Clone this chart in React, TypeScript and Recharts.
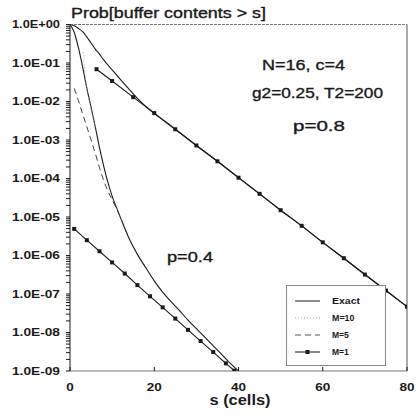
import React from 'react';
import { LineChart, Line, XAxis, YAxis, ReferenceLine, Legend } from 'recharts';

// buffer size s (cells) and Prob[buffer contents > s]
const exact08S = [0, 1, 2, 3, 4, 5, 6, 7, 8, 10, 12, 14, 16, 18, 20, 25, 30, 35, 40, 45, 50, 55, 60, 65, 70, 75, 80];
const exact08P = [1, 0.93, 0.79, 0.65, 0.47, 0.33, 0.23, 0.17, 0.12, 0.066, 0.037, 0.021, 0.012, 0.0074, 0.0049,
  1.9e-3, 7.2e-4, 2.8e-4, 1.05e-4, 4.0e-5, 1.5e-5, 5.9e-6, 2.2e-6, 8.5e-7, 3.2e-7, 1.23e-7, 4.7e-8];

const m1_08S = [6.3, 10, 15, 20, 25, 30, 35, 40, 45, 50, 55, 60, 65, 70, 75, 80];
const m1_08P = [6.9e-2, 3.4e-2, 1.3e-2, 5.0e-3, 1.9e-3, 7.2e-4, 2.8e-4, 1.05e-4, 4.0e-5, 1.5e-5, 5.9e-6,
  2.2e-6, 8.5e-7, 3.2e-7, 1.23e-7, 4.7e-8];

const exact04S = [0, 1, 2, 3, 4, 5, 6, 7, 8, 9, 10, 11, 12, 14, 16, 18, 20, 22, 24, 26, 28, 30, 32, 34, 36, 38, 40];
const exact04P = [1, 0.63, 0.25, 0.079, 0.022, 7.1e-3, 2.2e-3, 6.3e-4, 2.1e-4, 7.9e-5, 3.5e-5, 1.8e-5, 9.5e-6,
  2.8e-6, 1.07e-6, 4.8e-7, 2.2e-7, 1.12e-7, 6.3e-8, 3.7e-8, 2.1e-8, 1.26e-8, 7.6e-9, 4.5e-9, 2.7e-9, 1.6e-9, 1.0e-9];

const m10_04S = [3.2, 3.5, 4.0, 4.6, 5.2, 6];
const m10_04P = [0.19, 0.063, 0.02, 0.01, 5.0e-3, 2.2e-3];

const m5_04S = [1, 2, 3, 4, 5, 6, 7, 8, 9, 10, 11, 12, 14];
const m5_04P = [2.2e-2, 1.05e-2, 4.8e-3, 2.2e-3, 1.0e-3, 4.5e-4, 1.9e-4, 8.9e-5, 4.7e-5, 2.8e-5, 1.7e-5, 9.5e-6, 2.8e-6];

const m1_04S = [1, 4, 7, 10, 13, 16, 19, 22, 25, 28, 31, 34, 37, 39];
const m1_04P = [4.9e-6, 2.5e-6, 1.29e-6, 6.6e-7, 3.4e-7, 1.7e-7, 8.7e-8, 4.5e-8, 2.3e-8, 1.17e-8, 6.0e-9,
  3.1e-9, 1.58e-9, 1.02e-9];

const xTicks = [0, 20, 40, 60, 80];
const decades = [0, -1, -2, -3, -4, -5, -6, -7, -8, -9];

const zip = (s: number[], p: number[]) => s.map((v, i) => ({ s: v, p: p[i] }));

// major ticks at each decade, minor ticks at 2..9 x 10^k
const yTicks: number[] = [];
decades.forEach(k => {
  yTicks.push(Math.pow(10, k));
  if (k > -9) for (let m = 2; m <= 9; m++) yTicks.push(m * Math.pow(10, k - 1));
});

const FONT = '"Liberation Sans", Arial, sans-serif';
const INK = '#1a1a1a';

const fmtExp = (v: number) => {
  const e = Math.round(Math.log10(v));
  const sign = e < 0 ? '-' : '+';
  return `1.0E${sign}${String(Math.abs(e)).padStart(2, '0')}`;
};

const YTick = (props: any) => {
  const { x, y, payload } = props;
  const lg = Math.log10(payload.value);
  if (Math.abs(lg - Math.round(lg)) > 1e-6) return <g />;
  return (
    <text x={x} y={y} dy="0.35em" textAnchor="end" fontFamily={FONT} fontSize={10} fontWeight="bold" fill={INK}
      textLength={48} lengthAdjust="spacingAndGlyphs">
      {fmtExp(payload.value)}
    </text>
  );
};

const XTick = (props: any) => {
  const { x, y, payload } = props;
  const label = String(payload.value);
  return (
    <g>
      <line x1={x} x2={x} y1={y - 16} y2={y - 20} stroke={INK} />
      <text x={x} y={y} dy="0.35em" textAnchor="middle" fontFamily={FONT} fontSize={10} fontWeight="bold" fill={INK}
        textLength={label.length * 7.5} lengthAdjust="spacingAndGlyphs">
        {label}
      </text>
    </g>
  );
};

const SquareDot = (props: any) => {
  const { cx, cy, key } = props;
  return <rect key={key} x={cx - 2} y={cy - 2} width={4} height={4} fill={INK} />;
};

const legendItems = [
  { name: 'Exact', dash: undefined, color: INK, marker: false },
  { name: 'M=10', dash: '1 2', color: '#aaa', marker: false },
  { name: 'M=5', dash: '6 4', color: '#555', marker: false },
  { name: 'M=1', dash: undefined, color: INK, marker: true },
];

const renderLegend = () => (
  <svg width={100} height={81} style={{ display: 'block' }}>
    <rect x={0.5} y={0.5} width={99} height={80} fill="#fff" stroke="#888" />
    {legendItems.map((it, i) => {
      const cy = 16 + i * 17;
      return (
        <g key={it.name}>
          <line x1={9} x2={34} y1={cy} y2={cy} stroke={it.color} strokeWidth={1} strokeDasharray={it.dash} />
          {it.marker && <rect x={19.5} y={cy - 2} width={4} height={4} fill={INK} />}
          <text x={46} y={cy} dy="0.35em" fontFamily={FONT} fontSize={9} fontWeight="bold" fill={INK}
            textLength={it.name.length * 5.6} lengthAdjust="spacingAndGlyphs">
            {it.name}
          </text>
        </g>
      );
    })}
  </svg>
);

const StretchText = ({ x, y, len, size = 14, weight = 'normal', anchor = 'start', children }: any) => (
  <text x={x} y={y} fontFamily={FONT} fontSize={size} fontWeight={weight} fill={INK} textAnchor={anchor}
    stroke={weight === 'normal' ? INK : undefined} strokeWidth={weight === 'normal' ? 0.35 : undefined}
    textLength={len} lengthAdjust="spacingAndGlyphs">
    {children}
  </text>
);

export default function App() {
  return (
    <div style={{ position: 'absolute', left: 0, top: 0, width: 416, height: 417, background: '#fff' }}>
      <LineChart width={416} height={417} margin={{ top: 24.5, right: 9, bottom: 16, left: 0 }}>
        <XAxis type="number" dataKey="s" domain={[0, 80]} ticks={xTicks} tick={<XTick />} tickLine={false}
          tickSize={0} tickMargin={16} height={30} axisLine={{ stroke: '#777' }} allowDataOverflow />
        <YAxis type="number" dataKey="p" scale="log" domain={[1e-9, 1]} ticks={yTicks} tick={<YTick />}
          tickSize={4} tickMargin={6} width={70} interval={0} axisLine={{ stroke: INK }}
          tickLine={{ stroke: INK }} allowDataOverflow />
        <ReferenceLine y={1} stroke="#777" strokeDasharray="3 1" />
        <ReferenceLine x={80} stroke="#555" />

        <Line data={zip(exact08S, exact08P)} dataKey="p" type="monotone" stroke={INK} strokeWidth={1.1}
          dot={false} isAnimationActive={false} />
        <Line data={zip(m1_08S, m1_08P)} dataKey="p" type="linear" stroke={INK} strokeWidth={1.1}
          dot={SquareDot} isAnimationActive={false} />
        <Line data={zip(exact04S, exact04P)} dataKey="p" type="monotone" stroke={INK} strokeWidth={1.1}
          dot={false} isAnimationActive={false} />
        <Line data={zip(m10_04S, m10_04P)} dataKey="p" type="monotone" stroke="#aaa" strokeWidth={1}
          strokeDasharray="1 2" dot={false} isAnimationActive={false} />
        <Line data={zip(m5_04S, m5_04P)} dataKey="p" type="monotone" stroke="#444" strokeWidth={1}
          strokeDasharray="6 4" dot={false} isAnimationActive={false} />
        <Line data={zip(m1_04S, m1_04P)} dataKey="p" type="linear" stroke={INK} strokeWidth={1.1}
          dot={SquareDot} isAnimationActive={false} />

        <Legend layout="vertical" align="center" verticalAlign="middle" content={renderLegend}
          wrapperStyle={{ position: 'absolute', left: 286, top: 285, width: 100, height: 81 }} />
      </LineChart>

      <svg width={416} height={417} style={{ position: 'absolute', left: 0, top: 0, pointerEvents: 'none' }}>
        <StretchText x={71} y={18} len={195}>Prob[buffer contents &gt; s]</StretchText>
        <StretchText x={262} y={70} len={83}>N=16, c=4</StretchText>
        <StretchText x={252} y={98} len={131}>g2=0.25, T2=200</StretchText>
        <StretchText x={293} y={131} len={52}>p=0.8</StretchText>
        <StretchText x={167} y={262} len={46}>p=0.4</StretchText>
        <StretchText x={240} y={405} len={61} weight="bold" anchor="middle">s (cells)</StretchText>
      </svg>
    </div>
  );
}
